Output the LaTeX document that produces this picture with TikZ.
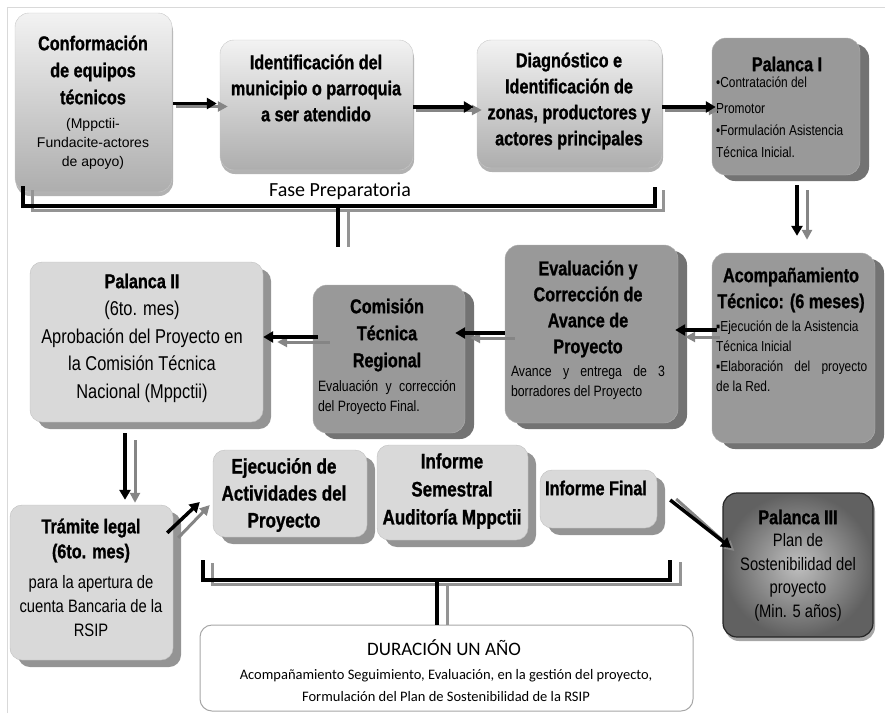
\documentclass[tikz,border=0pt]{standalone}
\usepackage{fontspec}
\setmainfont{Liberation Sans}
\newfontfamily\cond[FakeStretch=0.82]{Liberation Sans}
\newfontfamily\condb{Liberation Sans Bold}[FakeStretch=0.81, FakeBold=1]
\newfontfamily\calib{Carlito}
\usetikzlibrary{shadows,arrows.meta,calc}
\newcommand\fullline[2][\hsize]{\leavevmode\hbox to#1{#2}}
\begin{document}
\begin{tikzpicture}[x=1pt,y=-1pt,
  lightbox/.style={rounded corners=14pt, draw=black!22, top color=black!5, bottom color=black!32,
    drop shadow={shadow xshift=1pt, shadow yshift=-4pt, opacity=.3, fill=black}, inner sep=0},
  darkbox/.style={rounded corners=14pt, draw=black!30, fill=black!40,
    drop shadow={shadow xshift=9pt, shadow yshift=-6pt, opacity=1, fill=black!55}, inner sep=0},
  texbox/.style={rounded corners=12pt, draw=black!25, fill=black!15,
    drop shadow={shadow xshift=8pt, shadow yshift=-7pt, opacity=1, fill=black!42}, inner sep=0},
  finalbox/.style={rounded corners=14pt, draw=black!85, line width=1.2pt, shading=radial,
    inner color=black!25, outer color=black!62,
    drop shadow={shadow xshift=2pt, shadow yshift=-4pt, opacity=.35, fill=black}, inner sep=0},
  durbox/.style={rounded corners=12pt, draw=black!35, fill=white, line width=1pt, inner sep=0},
  txt/.style={inner sep=0, align=center},
  ttl/.style={txt, font=\condb\fontsize{20}{26}\selectfont},
  small/.style={inner sep=0, align=flush left, font=\cond\fontsize{15}{20}\selectfont},
  blk/.style={line width=3.5pt, black, -{Triangle[length=10pt,width=11pt]}},
  gry/.style={line width=3pt, black!48, -{Triangle[length=10pt,width=10pt]}},
  brk/.style={line width=4pt, black},
  brkg/.style={line width=3pt, black!42}]
\useasboundingbox (0,0) rectangle (885,713);
\draw[black!15, line width=1pt] (7,713) -- (7,7) -- (885,7);

% boxes
\node[lightbox, minimum width=157pt, minimum height=179pt] (conf) at (93.5,102.5) {};
\node[lightbox, minimum width=193pt, minimum height=130pt] (ident) at (316.5,105) {};
\node[lightbox, minimum width=185pt, minimum height=128pt] (diag) at (569.5,104) {};
\node[darkbox, minimum width=148pt, minimum height=137pt] (pal1) at (786,106.5) {};
\node[darkbox, minimum width=163pt, minimum height=190pt] (acomp) at (793.5,348) {};
\node[darkbox, minimum width=173pt, minimum height=178pt] (eval) at (591.5,334) {};
\node[darkbox, minimum width=152pt, minimum height=148pt] (comi) at (389,359) {};
\node[texbox, minimum width=233pt, minimum height=160pt] (pal2) at (146.5,342) {};
\node[texbox, minimum width=163pt, minimum height=155pt] (tram) at (91.5,582.5) {};
\node[texbox, minimum width=154pt, minimum height=87pt] (ejec) at (290,493.5) {};
\node[texbox, minimum width=151pt, minimum height=95pt] (infs) at (452.5,492.5) {};
\node[texbox, minimum width=117pt, minimum height=58pt] (inff) at (598.5,499) {};
\node[finalbox, minimum width=150pt, minimum height=144pt] (pal3) at (798,565) {};
\node[durbox, minimum width=493pt, minimum height=86pt] (dur) at (446.5,668) {};

% texts
\node[ttl, font=\condb\fontsize{20}{27}\selectfont] (conft) at (93,70) {Conformación\\de equipos\\técnicos};
\node[txt, font=\fontsize{14}{19}\selectfont] (confs) at (93,144) {(Mppctii-\\Fundacite-actores\\de apoyo)};
\node[ttl] (identt) at (316,88) {Identificación del\\municipio o parroquia\\a ser atendido};
\node[ttl] (diagt) at (569,101) {Diagnóstico e\\Identificación de\\zonas, productores y\\actores principales};
\node[ttl] (pal1t) at (787,64) {Palanca I};
\node[small, anchor=north west, text width=146pt, font=\cond\fontsize{14.5}{22}\selectfont] (pal1s) at (716,77)
  {•Contratación del\\[4pt]Promotor\\•Formulación Asistencia\\Técnica Inicial.};
\node[ttl] (acompt) at (791,290) {Acompañamiento\\Técnico: (6 meses)};
\node[small, anchor=north west, text width=160pt, font=\cond\fontsize{14.5}{20}\selectfont] (acomps) at (716,321)
  {▪Ejecución de la Asistencia\\Técnica Inicial\\\fullline[151pt]{▪Elaboración\hfill del\hfill proyecto}\\de la Red.};
\node[ttl] (evalt) at (588,309) {Evaluación y\\Corrección de\\Avance de\\Proyecto};
\node[small, text width=154pt] (evals) at (588,383)
  {\fullline{Avance\hfill y\hfill entrega\hfill de\hfill 3}\\borradores del Proyecto};
\node[ttl, font=\condb\fontsize{20}{27}\selectfont] (comit) at (387,335) {Comisión\\Técnica\\Regional};
\node[small, text width=138pt] (comis) at (387,397.5)
  {\fullline{Evaluación\hfill y\hfill corrección}\\del Proyecto Final.};
\node[txt, font=\cond\fontsize{20}{27.5}\selectfont] (pal2t) at (142,338)
  {{\condb Palanca II}\\(6to. mes)\\Aprobación del Proyecto en\\la Comisión Técnica\\Nacional (Mppctii)};
\node[ttl, font=\condb\fontsize{20}{25}\selectfont] (tramt) at (91,540.5) {Trámite legal\\(6to. mes)};
\node[txt, font=\cond\fontsize{18}{24}\selectfont] (trams) at (91,606) {para la apertura de\\cuenta Bancaria de la\\RSIP};
\node[ttl, font=\condb\fontsize{21}{27}\selectfont] (eject) at (284,495) {Ejecución de\\Actividades del\\Proyecto};
\node[ttl, font=\condb\fontsize{21}{28}\selectfont] (infst) at (452,491) {Informe\\Semestral\\Auditoría Mppctii};
\node[ttl] (infft) at (596,488) {Informe Final};
\node[ttl] (pal3t) at (798,517) {Palanca III};
\node[txt, font=\cond\fontsize{18}{23.5}\selectfont] (pal3s) at (798,577.5) {Plan de\\Sostenibilidad del\\proyecto\\(Min. 5 años)};
\node[txt, font=\calib\fontsize{19}{23}\selectfont] (durt) at (444,648) {DURACIÓN UN AÑO};
\node[txt, font=\calib\fontsize{14.5}{22}\selectfont] (durs) at (446,686)
  {Acompañamiento Seguimiento, Evaluación, en la gestión del proyecto,\\Formulación del Plan de Sostenibilidad de la RSIP};
\node[txt, font=\calib\fontsize{20}{24}\selectfont] (fase) at (340,191) {Fase Preparatoria};

% brackets
\coordinate (fa) at (23,186); \coordinate (fb) at (655,187); \coordinate (fs) at (338,206);
\draw[brkg] ([shift={(9,4)}]fa) -- ([shift={(9,24)}]fa) -- ([shift={(8,4)}]fs -| fb) -- ([shift={(8,3)}]fb);
\draw[brkg] ([shift={(10,4)}]fs) -- ([shift={(10,41)}]fs);
\draw[brk] (fa) -- (fa |- fs) -- (fs -| fb) -- (fb);
\draw[brk] (fs) -- ([shift={(0,41)}]fs);

\coordinate (ba) at (203,560); \coordinate (bb) at (670,560); \coordinate (bs) at (437,580);
\draw[brkg] ([shift={(9,3)}]ba) -- ([shift={(9,4)}]ba |- bs) -- ([shift={(10,4)}]bs -| bb) -- ([shift={(10,2)}]bb);
\draw[brkg] ([shift={(10,4)}]bs) -- ([xshift=10pt]bs |- dur.north);
\draw[brk] (ba) -- (ba |- bs) -- (bs -| bb) -- (bb);
\draw[brk] (bs) -- (bs |- dur.north);

% arrows
\draw[gry] ([shift={(4,4)}]conf.east) -- ([shift={(8,4)}]conf.east -| ident.west);
\draw[blk] ([shift={(1,1)}]conf.east) -- ([shift={(-3,1)}]conf.east -| ident.west);
\draw[gry] ([shift={(3,5)}]ident.east) -- ([shift={(5,5)}]ident.east -| diag.west);
\draw[blk] ([shift={(0,2)}]ident.east) -- ([shift={(-3,2)}]ident.east -| diag.west);
\draw[gry] ([shift={(3,6)}]diag.east) -- ([shift={(7,6)}]diag.east -| pal1.west);
\draw[blk] ([shift={(0,3)}]diag.east) -- ([shift={(4,3)}]diag.east -| pal1.west);
\draw[gry] ([shift={(21,15)}]pal1.south) -- ([shift={(21,-13)}]pal1.south |- acomp.north);
\draw[blk] ([shift={(11,10)}]pal1.south) -- ([shift={(11,-17)}]pal1.south |- acomp.north);
\draw[gry] ([shift={(8,3)}]acomp.west |- eval.east) -- ([shift={(7,3)}]eval.east);
\draw[blk] ([shift={(5,-4)}]acomp.west |- eval.east) -- ([shift={(-3,-4)}]eval.east);
\draw[gry] ([shift={(10,4)}]eval.west) -- ([shift={(5,4)}]eval.west -| comi.east);
\draw[blk] ([shift={(0,-1)}]eval.west) -- ([shift={(-10,-1)}]eval.west -| comi.east);
\draw[gry] ([shift={(17,-17)}]comi.west) -- ([shift={(14,-17)}]comi.west -| pal2.east);
\draw[blk] ([shift={(5,-22)}]comi.west) -- ([shift={(0,-22)}]comi.west -| pal2.east);
\draw[gry] ([shift={(-11.5,18)}]pal2.south) -- ([shift={(-11.5,-2)}]pal2.south |- tram.north);
\draw[blk] ([shift={(-21.5,11)}]pal2.south) -- ([shift={(-21.5,-5)}]pal2.south |- tram.north);
\draw[gry] ([shift={(5,33)}]tram.north east) -- ([shift={(-3,11.5)}]ejec.west);
\draw[blk] ([shift={(-6,28)}]tram.north east) -- ([shift={(-13,8.5)}]ejec.west);
\draw[gry] ([shift={(19,0)}]inff.east) -- ([shift={(12,-14)}]pal3.west);
\draw[blk] ([shift={(13,1)}]inff.east) -- ([shift={(9,-17)}]pal3.west);
\end{tikzpicture}
\end{document}
